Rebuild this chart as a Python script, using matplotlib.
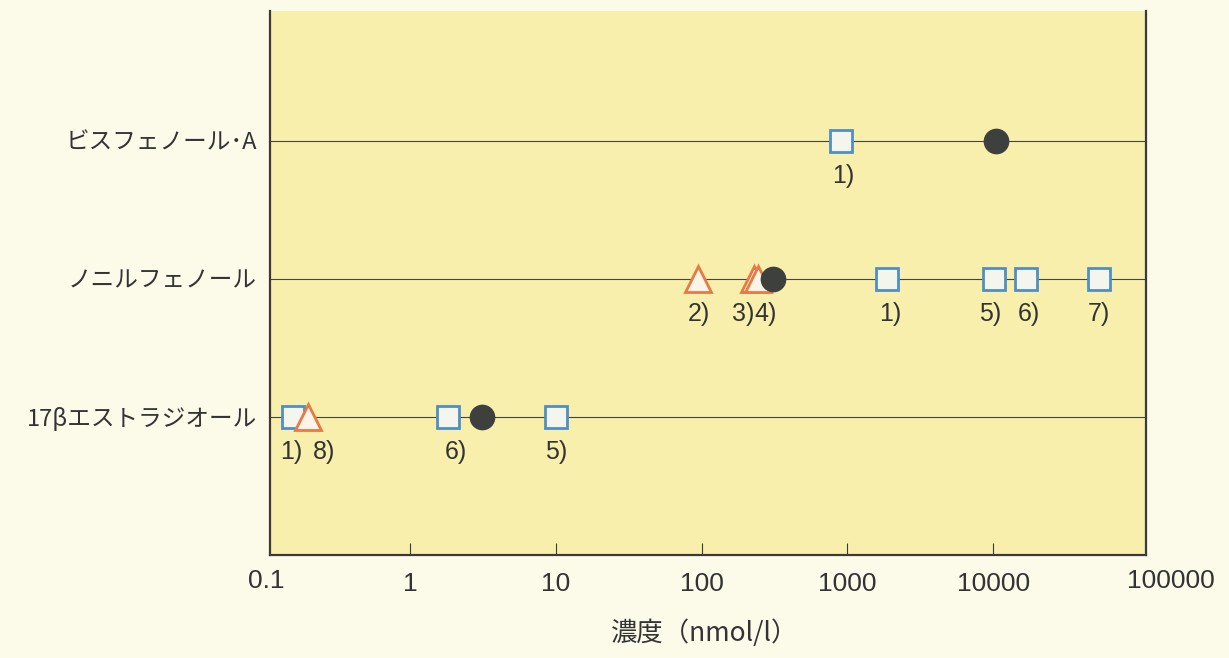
import matplotlib
matplotlib.use("Agg")
import matplotlib.pyplot as plt
import matplotlib.transforms as mtransforms

# ---- data ----
categories = ["17βエストラジオール", "ノニルフェノール", "ビスフェノール･A"]

# squares (blue)
e2_square = [0.157, 1.83, 10.1]
e2_square_labels = ["1)", "6)", "5)"]
np_square = [1870, 10200, 16900, 53000]
np_square_labels = ["1)", "5)", "6)", "7)"]
bpa_square = [900]
bpa_square_labels = ["1)"]

# triangles (orange)
e2_tri = [0.20]
e2_tri_labels = ["8)"]
np_tri = [94, 228, 245]
np_tri_labels = ["2)", "3)", "4)"]
bpa_tri = []
bpa_tri_labels = []

# circles (dark)
e2_circle = [3.1]
np_circle = [308]
bpa_circle = [10500]

xtick_vals = [1, 10, 100, 1000, 10000]
xtick_labels = ["1", "10", "100", "1000", "10000"]
end_labels = ["0.1", "100000"]
xlabel = "濃度（nmol/l）"

# ---- style ----
FIG_BG = "#fcfbea"
AX_BG = "#f8efad"
SQ_EDGE = "#4f8fc4"
SQ_FACE = "#f4f6ee"
TRI_EDGE = "#e97a43"
TRI_FACE = "#fbf4e8"
CIRC = "#3d403d"
TXT = "#333333"
JP = ["Noto Sans CJK JP", "DejaVu Sans"]
NUM = ["Liberation Sans", "DejaVu Sans"]
PX = 72.0 / 100.0  # points per pixel

fig = plt.figure(figsize=(12.29, 6.58), dpi=100, facecolor=FIG_BG)
ax = fig.add_axes([0.2193, 0.1565, 0.9325 - 0.2193, 0.9833 - 0.1565])
ax.set_facecolor(AX_BG)
ax.set_xscale("log")
ax.set_xlim(0.1087, 1.12e5)
ax.set_ylim(0, 3.94)

rows = [1, 2, 3]
for y in rows:
    ax.axhline(y, color="#45453a", lw=0.8, zorder=1)

sq_sets = [(e2_square, e2_square_labels), (np_square, np_square_labels), (bpa_square, bpa_square_labels)]
tri_sets = [(e2_tri, e2_tri_labels), (np_tri, np_tri_labels), (bpa_tri, bpa_tri_labels)]
circ_sets = [e2_circle, np_circle, bpa_circle]

# label nudges (pixels) to avoid overlaps, as in the original layout
label_nudge = {(1, "1)"): -2, (1, "8)"): 16, (1, "6)"): 8, (1, "5)"): 0,
               (2, "3)"): -11, (2, "4)"): 7, (2, "5)"): -4, (2, "6)"): 3,
               (2, "7)"): 0, (2, "2)"): 1}

def put_label(v, y, l):
    dx = label_nudge.get((y, l), 3)
    ax.annotate(l, (v, y), xytext=(dx * PX, -35 * PX), textcoords="offset points",
                ha="center", va="center", fontsize=18, color=TXT, family=NUM)

for y, (vals, labs) in zip(rows, sq_sets):
    ax.plot(vals, [y] * len(vals), ls="none", marker="s", ms=16.5, mew=2.0,
            mec=SQ_EDGE, mfc=SQ_FACE, zorder=3)
    for v, l in zip(vals, labs):
        put_label(v, y, l)
for y, (vals, labs) in zip(rows, tri_sets):
    ax.plot(vals, [y] * len(vals), ls="none", marker="^", ms=18.5, mew=2.0,
            mec=TRI_EDGE, mfc=TRI_FACE, zorder=4)
    for v, l in zip(vals, labs):
        put_label(v, y, l)
for y, vals in zip(rows, circ_sets):
    ax.plot(vals, [y] * len(vals), ls="none", marker="o", ms=18.5, mew=0,
            mfc=CIRC, zorder=5)

# axes styling
for s in ["left", "bottom", "right"]:
    ax.spines[s].set_color("#3a3a3a")
    ax.spines[s].set_linewidth(1.6)
ax.spines["top"].set_visible(False)

ax.set_yticks(rows)
ax.set_yticklabels(categories, family=JP, fontsize=17, color=TXT)
ax.tick_params(axis="y", length=0, pad=9)

ax.set_xticks(xtick_vals)
ax.set_xticklabels(xtick_labels, family=NUM, fontsize=19, color=TXT)
ax.minorticks_off()
ax.tick_params(axis="x", direction="in", length=8.5, width=0.8, color="#3a3a3a", pad=12)

trans = mtransforms.blended_transform_factory(ax.transData, ax.transAxes)
ax.text(0.1, 0, end_labels[0], transform=mtransforms.offset_copy(trans, fig=fig, x=2, y=-26, units="dots"),
        ha="center", va="center", family=NUM, fontsize=19, color=TXT, clip_on=False)
ax.text(1e5, 0, end_labels[1], transform=mtransforms.offset_copy(trans, fig=fig, x=32, y=-26, units="dots"),
        ha="center", va="center", family=NUM, fontsize=19, color=TXT, clip_on=False)

fig.text(0.573, 0.038, xlabel, family=JP, fontsize=19, color=TXT, ha="center", va="center")

fig.savefig("out.png", dpi=100, facecolor=FIG_BG)
